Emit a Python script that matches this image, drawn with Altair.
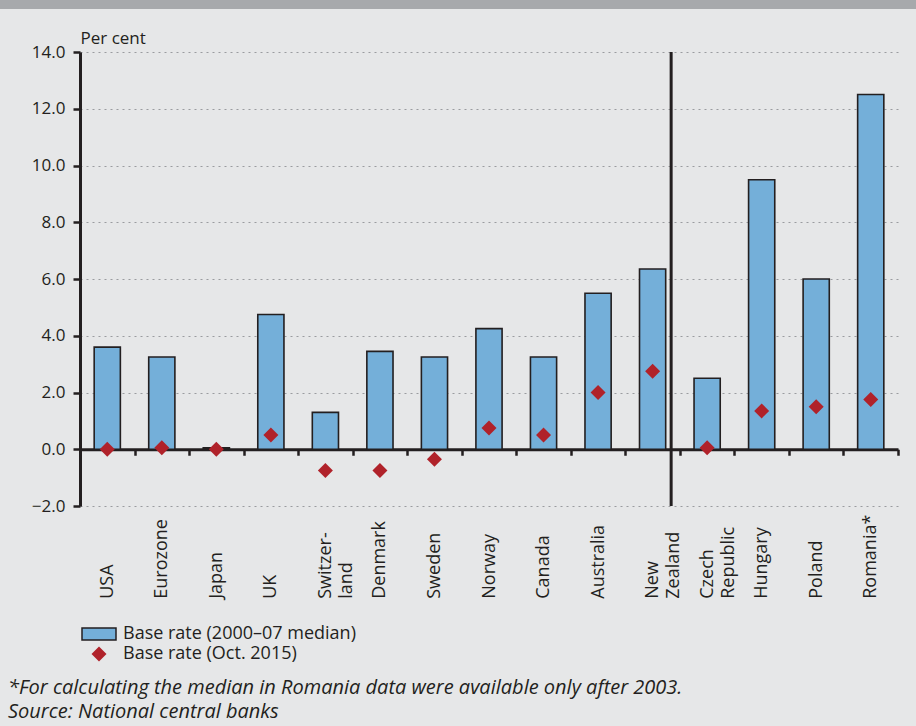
import altair as alt
import pandas as pd

# Categories ("|" marks a line break in the axis label)
countries = ["USA", "Eurozone", "Japan", "UK", "Switzer-|land", "Denmark", "Sweden",
             "Norway", "Canada", "Australia", "New|Zealand", "Czech|Republic",
             "Hungary", "Poland", "Romania*"]
# Base rate, 2000-07 median (per cent)
median_2000_07 = [3.6, 3.25, 0.05, 4.75, 1.3, 3.45, 3.25, 4.25, 3.25, 5.5, 6.35, 2.5, 9.5, 6.0, 12.5]
# Base rate, October 2015 (per cent)
oct_2015 = [0.0, 0.05, 0.0, 0.5, -0.75, -0.75, -0.35, 0.75, 0.5, 2.0, 2.75, 0.05, 1.35, 1.5, 1.75]

series_bar = "Base rate (2000–07 median)"
series_pt = "Base rate (Oct. 2015)"
note_line1 = "*For calculating the median in Romania data were available only after 2003."
note_line2 = "Source: National central banks"

FONT = "Open Sans"
INK = "#231f20"
BAR = "#74afd9"
RED = "#b0222a"
BG = "#e6e7e8"

df = pd.DataFrame({"country": countries, "median": median_2000_07, "oct": oct_2015,
                   "s1": series_bar, "s2": series_pt})

x_enc = alt.X(
    "country:N", sort=countries, title=None,
    scale=alt.Scale(paddingInner=0, paddingOuter=0),
    axis=alt.Axis(
        orient="bottom", offset=-56.75, domainColor=INK, domainWidth=3,
        ticks=True, tickBand="extent", tickSize=6, tickWidth=2.5, tickColor=INK,
        labelAngle=270, labelAlign="left", labelBaseline="middle", labelPadding=143,
        labelFont=FONT, labelFontSize=18, labelColor=INK, labelLineHeight=21,
        labelExpr="split(datum.label, '|')", labelOverlap=False, labelBound=False,
        labelFlush=False, grid=False,
    ),
)

y_enc = alt.Y(
    "median:Q", title="Per cent",
    scale=alt.Scale(domain=[-2, 14], nice=False, zero=False),
    axis=alt.Axis(
        values=list(range(-2, 15, 2)), format=".1f", domainColor=INK, domainWidth=3,
        tickSize=7, tickWidth=2.5, tickColor=INK, labelPadding=8,
        labelFont=FONT, labelFontSize=17, labelColor=INK,
        grid=True, gridDash=[2, 4], gridColor="#9a9c9f", gridWidth=1.2,
        titleAngle=0, titleAlign="left", titleBaseline="alphabetic", titleX=0, titleY=-9,
        titleFont=FONT, titleFontSize=17, titleFontWeight="normal", titleColor=INK,
    ),
)

bars = alt.Chart(df).mark_bar(width={"band": 0.48}, stroke=INK, strokeWidth=1.6).encode(
    x=x_enc,
    y=y_enc,
    y2=alt.datum(0),
    fill=alt.Fill(
        "s1:N", scale=alt.Scale(domain=[series_bar], range=[BAR]),
        legend=alt.Legend(
            title=None, orient="none", legendX=1, legendY=564,
            symbolType="M-1,-0.353H1V0.353H-1Z", symbolSize=1156,
            symbolStrokeColor=INK, symbolStrokeWidth=1.5, labelOffset=6, labelLimit=0,
            labelFont=FONT, labelFontSize=18, labelColor=INK,
        ),
    ),
)

points = alt.Chart(df).mark_point(shape="diamond", filled=True, size=225, opacity=1).encode(
    x=alt.X("country:N", sort=countries),
    y=alt.Y("oct:Q"),
    color=alt.Color(
        "s2:N", scale=alt.Scale(domain=[series_pt], range=[RED]),
        legend=alt.Legend(
            title=None, orient="none", legendX=10, legendY=593,
            symbolType="diamond", symbolSize=225, symbolStrokeWidth=0, labelOffset=15,
            labelLimit=0, labelFont=FONT, labelFontSize=18, labelColor=INK,
        ),
    ),
)

# Divider between the advanced economies and the CEE countries
divider = alt.Chart(pd.DataFrame({"country": ["New|Zealand"]})).mark_rule(
    color=INK, strokeWidth=3
).encode(
    x=alt.X("country:N", sort=countries, bandPosition=0.84),
    y=alt.datum(14),
    y2=alt.datum(-2),
)

# Grey strip along the top edge
strip = alt.Chart(pd.DataFrame({"a": [0]})).mark_rect(color="#a7a9ac").encode(
    x=alt.value(-80), x2=alt.value(838), y=alt.value(-52), y2=alt.value(-43)
)


def note(text, y):
    return alt.Chart(pd.DataFrame({"text": [text]})).mark_text(
        align="left", baseline="alphabetic", font=FONT, fontSize=20,
        fontStyle="italic", color=INK
    ).encode(text="text:N", x=alt.value(-72), y=alt.value(y))


chart = alt.layer(
    strip, bars, points, divider, note(note_line1, 642), note(note_line2, 666)
).properties(
    width=818, height=454,
    autosize=alt.AutoSizeParams(type="none"),
    padding={"left": 80, "top": 52, "right": 18, "bottom": 220},
).configure(background=BG).configure_view(stroke=None)

chart.save("out.html", embed_options={"renderer": "svg", "actions": False})
